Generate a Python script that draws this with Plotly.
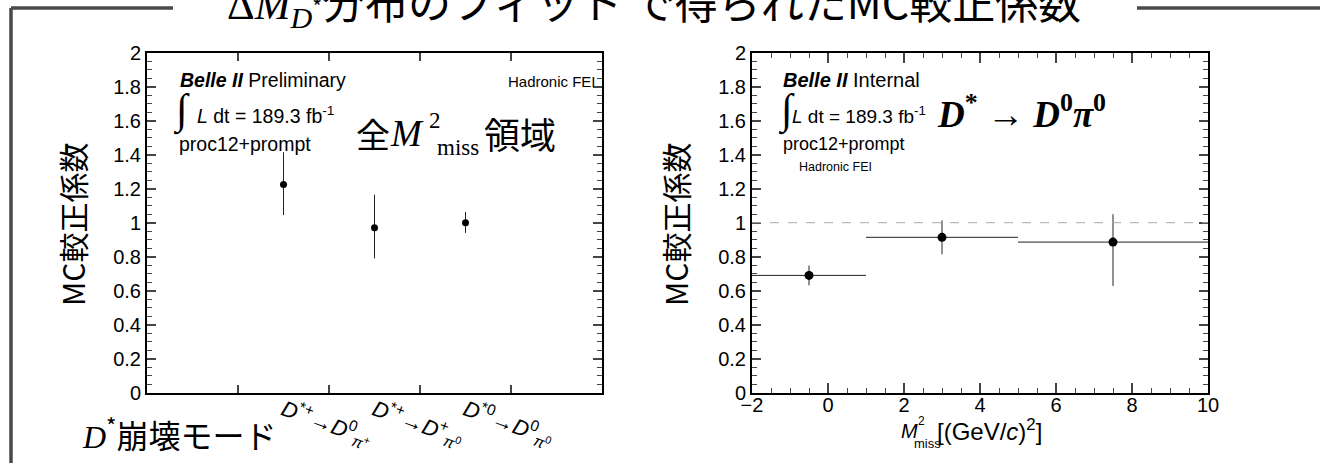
import plotly.graph_objects as go

# ---------------- data ----------------
mode_labels = [
    "<i>D</i><sup>*+</sup>→<i>D</i><sup>0</sup><sub><i>π</i><sup>+</sup></sub>",
    "<i>D</i><sup>*+</sup>→<i>D</i><sup>+</sup><sub><i>π</i><sup>0</sup></sub>",
    "<i>D</i><sup>*0</sup>→<i>D</i><sup>0</sup><sub><i>π</i><sup>0</sup></sub>",
]
mode_bin_index = [1, 2, 3]          # filled bins of the 5-bin mode histogram
mode_n_bins = 5
mode_factor = [1.225, 0.970, 1.000]
mode_err_up = [0.190, 0.195, 0.063]
mode_err_dn = [0.180, 0.180, 0.060]

mm2_bin_lo = [-2, 1, 5]
mm2_bin_hi = [1, 5, 10]
mm2_factor = [0.690, 0.914, 0.886]
mm2_err_up = [0.058, 0.099, 0.164]
mm2_err_dn = [0.058, 0.100, 0.258]

reference_level = 1.0

# ---------------- geometry helpers ----------------
W, H = 1320, 463
def px(x):
    return x / W
def py(y):
    return 1 - y / H

SANS = "Liberation Sans"
SERIF = "Liberation Serif"
CJK = "Noto Sans CJK JP"

mode_x = [i + 0.5 for i in mode_bin_index]
mm2_x = [(a + b) / 2 for a, b in zip(mm2_bin_lo, mm2_bin_hi)]
mm2_xerr = [(b - a) / 2 for a, b in zip(mm2_bin_lo, mm2_bin_hi)]

fig = go.Figure()

fig.add_trace(go.Scatter(
    x=mode_x, y=mode_factor, mode="markers", xaxis="x", yaxis="y",
    marker=dict(color="black", size=7),
    error_y=dict(type="data", symmetric=False, array=mode_err_up, arrayminus=mode_err_dn,
                 width=0, thickness=1, color="#222"),
    hoverinfo="skip"))

fig.add_trace(go.Scatter(
    x=mm2_x, y=mm2_factor, mode="markers", xaxis="x2", yaxis="y2",
    marker=dict(color="black", size=9),
    error_y=dict(type="data", symmetric=False, array=mm2_err_up, arrayminus=mm2_err_dn,
                 width=0, thickness=1, color="#222"),
    error_x=dict(type="data", array=mm2_xerr, width=0, thickness=1, color="#222"),
    hoverinfo="skip"))

ydom = [py(392.7), py(52.7)]
tickc = "#444"
yax_common = dict(
    range=[0, 2], dtick=0.2, tick0=0, ticks="inside", ticklen=9, tickwidth=1.5, tickcolor=tickc,
    minor=dict(dtick=0.05, tick0=0, ticks="inside", ticklen=5, tickwidth=1, tickcolor=tickc),
    showline=True, linecolor="black", linewidth=2, mirror="ticks",
    showgrid=False, zeroline=False, fixedrange=True,
    tickfont=dict(family=SANS, size=20, color="black"), domain=ydom,
)

fig.update_layout(
    width=W, height=H, margin=dict(l=0, r=0, t=0, b=0, autoexpand=False),
    paper_bgcolor="white", plot_bgcolor="white", showlegend=False,
    xaxis=dict(
        domain=[px(147), px(602)], range=[0, mode_n_bins],
        tickmode="array", tickvals=mode_x, ticktext=mode_labels, ticks="",
        tickangle=20, tickfont=dict(family=SANS, size=22, color="black"),
        ticklabelstandoff=-6,
        minor=dict(tickmode="array", tickvals=list(range(1, mode_n_bins)), ticks="inside",
                   ticklen=8, tickwidth=1.5, tickcolor=tickc),
        showline=True, linecolor="black", linewidth=2, mirror="ticks",
        showgrid=False, zeroline=False, anchor="y",
    ),
    yaxis=dict(anchor="x", **yax_common),
    xaxis2=dict(
        domain=[px(752), px(1208)], range=[-2, 10], dtick=2, tick0=0,
        ticks="inside", ticklen=10, tickwidth=1.5, tickcolor=tickc,
        minor=dict(dtick=0.5, tick0=0, ticks="inside", ticklen=5, tickwidth=1, tickcolor=tickc),
        showline=True, linecolor="black", linewidth=2, mirror="ticks",
        showgrid=False, zeroline=False, anchor="y2", ticklabelstandoff=-7,
        tickfont=dict(family=SANS, size=20, color="black"),
    ),
    yaxis2=dict(anchor="x2", **yax_common),
)

# dashed reference line
fig.add_shape(type="line", xref="x2", yref="y2", x0=mm2_bin_lo[0], x1=mm2_bin_hi[-1],
              y0=reference_level, y1=reference_level,
              line=dict(color="#aaa", width=1, dash="dash"))

# frame decoration
deco = dict(color="#4a4a4a", width=3.5)
for (x0, y0, x1, y1) in [(11, 8, 173, 8), (11, 8, 11, 470), (1137, 8, 1325, 8)]:
    fig.add_shape(type="line", xref="paper", yref="paper",
                  x0=px(x0), y0=py(y0), x1=px(x1), y1=py(y1), line=deco)

anns = []
def ann(text, x, y, size, family=SANS, xanchor="left", yanchor="middle", angle=0):
    anns.append(dict(text=text, x=px(x), y=py(y), xref="paper", yref="paper",
                     xanchor=xanchor, yanchor=yanchor, showarrow=False, textangle=angle,
                     font=dict(family=family, size=size, color="black")))

# title
ann("<span style='font-family:Liberation Serif'>Δ<i>M</i></span>"
    "<sub><span style='font-family:Liberation Serif'><i>D</i></span><sup>*</sup></sub>"
    "分布のフィット で得られたMC較正係数", 654, 2, 43, family=CJK, xanchor="center")

# left panel texts
ann("<b><i>Belle II</i></b> Preliminary", 178, 80, 19.5)
ann("∫", 171, 111, 42, family=SERIF)
ann("<i>L</i> dt = 189.3 fb<sup>-1</sup>", 195, 115, 19.5)
ann("proc12+prompt", 177, 144, 19.5)
ann("Hadronic FEI", 598, 81, 15, xanchor="right")
ann("全", 354, 133, 34, family=CJK)
ann("<i>M</i>", 388, 134, 37, family=SERIF)
ann("2", 427, 121, 23, family=SERIF)
ann("miss", 435, 147, 23, family=SERIF)
ann("領域", 482, 133, 36, family=CJK)
ann("MC較正係数", 72, 224, 30, family=CJK, xanchor="center", angle=-90)
ann("<span style='font-family:Liberation Serif'><i>D</i></span><sup>*</sup>崩壊モード",
    80, 433, 32, family=CJK)

# right panel texts
ann("<b><i>Belle II</i></b> Internal", 781, 80, 20)
ann("∫", 776, 111, 42, family=SERIF)
ann("<i>L</i> dt = 189.3 fb<sup>-1</sup>", 790, 115, 19)
ann("proc12+prompt", 781, 144, 18)
ann("Hadronic FEI", 797, 167, 12.5)
ann("<b><i>D</i></b><b><sup>*</sup></b> → <b><i>D</i></b><b><sup>0</sup></b><b><i>π</i></b><b><sup>0</sup></b>",
    935, 112, 37, family=SERIF)
ann("MC較正係数", 675, 224, 30, family=CJK, xanchor="center", angle=-90)
ann("<i>M</i>", 920, 431, 20, xanchor="right")
ann("2", 916, 421, 12)
ann("miss", 912, 443, 13)
ann("[(GeV/<i>c</i>)<sup>2</sup>]", 935, 430, 24)

fig.update_layout(annotations=anns)

fig.write_html("out.html", config={"displayModeBar": False},
               post_script="document.body.style.margin='0px';")
